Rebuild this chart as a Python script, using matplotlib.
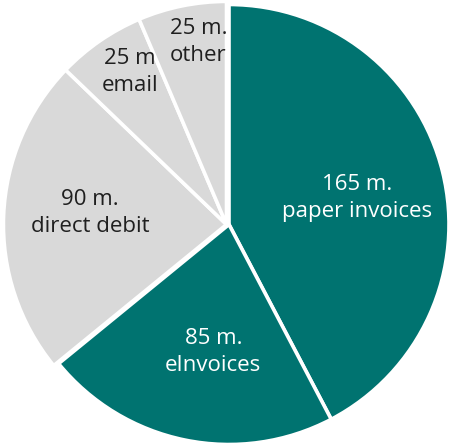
import matplotlib
matplotlib.use("Agg")
import matplotlib.pyplot as plt
import numpy as np

categories = ["paper invoices", "eInvoices", "direct debit", "email", "other"]
values = [165, 85, 90, 25, 25]
value_labels = ["165 m.", "85 m.", "90 m.", "25 m", "25 m."]

teal = "#007370"
gray = "#D9D9D9"
colors = [teal, teal, gray, gray, gray]
text_colors = ["white", "white", "#1f1f1f", "#1f1f1f", "#1f1f1f"]
label_dist = [0.593, 0.584, 0.634, 0.826, 0.841]
label_rot = [-2.0, 4.5, -2.4, -1.5, -2.0]

plt.rcParams['font.family'] = ['Open Sans', 'DejaVu Sans']

W, H = 450, 446
fig = plt.figure(figsize=(W / 100, H / 100), dpi=100)
ax = fig.add_axes([0, 0, 1, 1])

R_px = 220.0
cx, cy = 229.0, 224.5

wedges, _ = ax.pie(values, colors=colors, startangle=90, counterclock=False,
                   radius=1.0, center=(0, 0),
                   wedgeprops=dict(edgecolor='white', linewidth=2.6))

shift = np.array([-2.5, 0.0]) / R_px
for w, c in zip(wedges, colors):
    if c == gray:
        w.set_center(tuple(np.array(w.center) + shift))
        w.set_radius(1.014)

for w, lab, cat, tc, d, rot in zip(wedges, value_labels, categories, text_colors,
                                   label_dist, label_rot):
    ang = np.deg2rad((w.theta1 + w.theta2) / 2 + rot)
    ax.text(d * np.cos(ang), d * np.sin(ang), f"{lab}\n{cat}",
            ha='center', va='center', color=tc, fontsize=16, linespacing=1.35)

ax.set_xlim(-cx / R_px, (W - cx) / R_px)
ax.set_ylim(-(H - cy) / R_px, cy / R_px)
ax.set_aspect('equal', adjustable='box')
ax.axis('off')

fig.savefig("out.png", dpi=100)
